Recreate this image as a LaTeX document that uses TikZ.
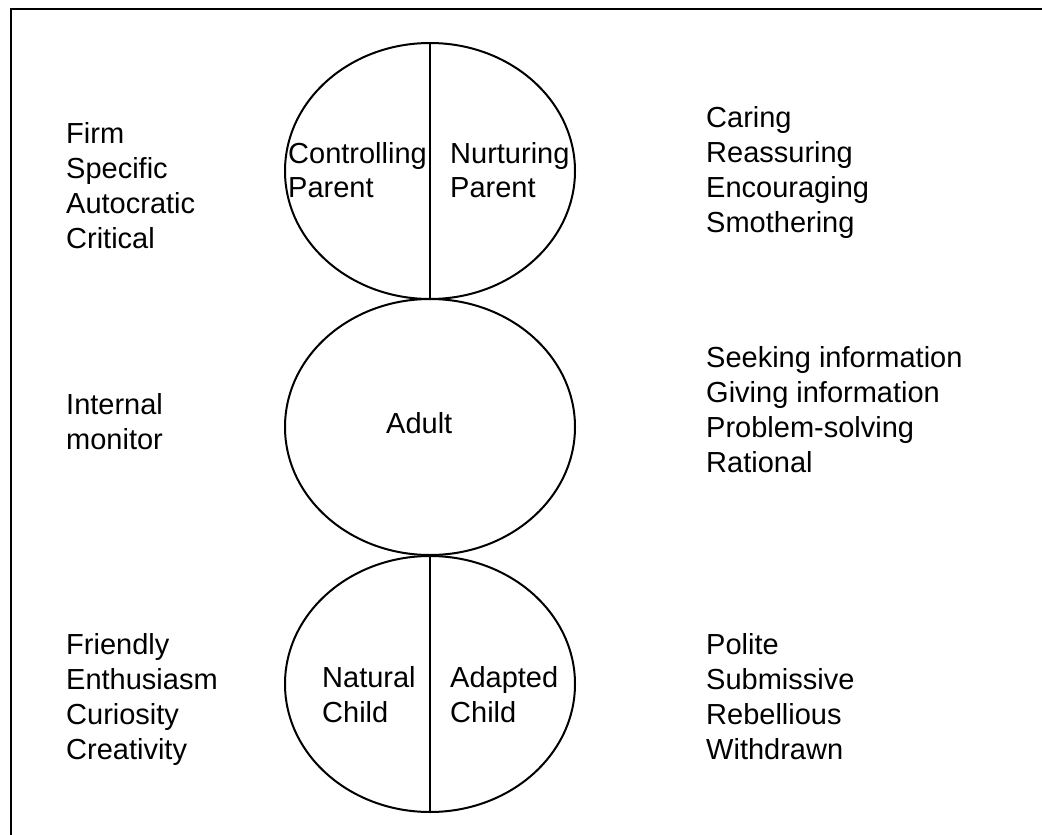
\documentclass[tikz,border=0pt]{standalone}
\usepackage{fontspec}
\setmainfont{Liberation Sans}
\usetikzlibrary{shapes.geometric}
\tikzset{
  lab/.style={anchor=base west, inner sep=0pt, font=\fontsize{29}{35}\selectfont},
  egg/.style={draw, ellipse, line width=2pt, inner sep=0pt, minimum width=290pt, minimum height=256pt},
  divider/.style={line width=2pt},
  frame/.style={line width=2.5pt}
}
\begin{document}
\begin{tikzpicture}[x=1pt,y=-1pt]
\useasboundingbox (0,0) rectangle (1042,835);
\clip (0,0) rectangle (1042,835);
\fill[white] (0,0) rectangle (1042,835);
% frame (right and bottom edges lie outside the picture)
\coordinate (fbl) at (11,900);
\coordinate (ftl) at (11,9);
\coordinate (ftr) at (1100,9);
\draw[frame] (fbl) -- (ftl) -- (ftr);
% ego state circles
\node[egg] (parent) at (430,171) {};
\node[egg] (adult) at (430,427) {};
\node[egg] (child) at (430,684) {};
\draw[divider] (parent.north) -- (parent.south);
\draw[divider] (child.north) -- (child.south);
% labels inside
\node[lab] (cp1) at (288,163) {Controlling};
\node[lab] (cp2) at (288,197) {Parent};
\node[lab] (np1) at (450,163) {Nurturing};
\node[lab] (np2) at (450,197) {Parent};
\node[lab] (ad) at (386,433) {Adult};
\node[lab] (nc1) at (322,687) {Natural};
\node[lab] (nc2) at (322,722) {Child};
\node[lab] (ac1) at (450,687) {Adapted};
\node[lab] (ac2) at (450,722) {Child};
% side lists
\foreach \t [count=\i] in {Firm,Specific,Autocratic,Critical}
  \node[lab] (l1\i) at (66,{143+35*(\i-1)}) {\t};
\foreach \t [count=\i] in {Caring,Reassuring,Encouraging,Smothering}
  \node[lab] (r1\i) at (706,{127+35*(\i-1)}) {\t};
\foreach \t [count=\i] in {Internal,monitor}
  \node[lab] (l2\i) at (66,{414+35*(\i-1)}) {\t};
\foreach \t [count=\i] in {Seeking information,Giving information,Problem-solving,Rational}
  \node[lab] (r2\i) at (706,{367+35*(\i-1)}) {\t};
\foreach \t [count=\i] in {Friendly,Enthusiasm,Curiosity,Creativity}
  \node[lab] (l3\i) at (66,{654+35*(\i-1)}) {\t};
\foreach \t [count=\i] in {Polite,Submissive,Rebellious,Withdrawn}
  \node[lab] (r3\i) at (706,{654+35*(\i-1)}) {\t};
\end{tikzpicture}
\end{document}
